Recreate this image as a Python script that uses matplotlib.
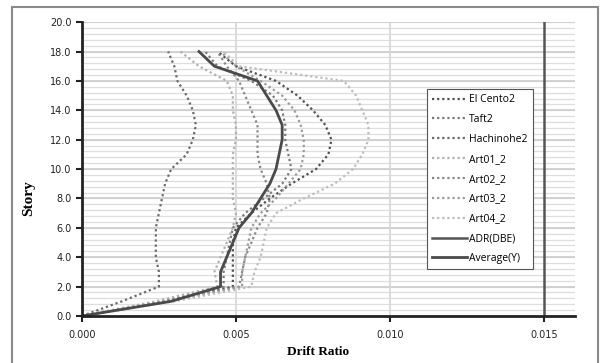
import matplotlib
matplotlib.use("Agg")
import matplotlib.pyplot as plt
from matplotlib.patches import Rectangle
import numpy as np

# story levels
story = np.arange(0, 19)

# drift ratio per story
el_cento2 = [0, 0.0027, 0.0049, 0.0049, 0.0049, 0.0049, 0.0050, 0.0055, 0.0061, 0.0068,
             0.0076, 0.0080, 0.0081, 0.0079, 0.0075, 0.0070, 0.0063, 0.0050, 0.0044]
taft2 = [0, 0.0026, 0.0046, 0.0046, 0.0047, 0.0048, 0.0049, 0.0053, 0.0059, 0.0065,
         0.0068, 0.0067, 0.0066, 0.0066, 0.0065, 0.0062, 0.0055, 0.0044, 0.0040]
hachinohe2 = [0, 0.0013, 0.0025, 0.0025, 0.0024, 0.0024, 0.0024, 0.0025, 0.0026, 0.0027,
              0.0029, 0.0034, 0.0036, 0.0037, 0.0036, 0.0034, 0.0031, 0.0030, 0.0028]
art01_2 = [0, 0.0024, 0.0044, 0.0043, 0.0045, 0.0047, 0.0049, 0.0050, 0.0049, 0.0049,
           0.0049, 0.0049, 0.0050, 0.0050, 0.0049, 0.0049, 0.0047, 0.0038, 0.0032]
art02_2 = [0, 0.0028, 0.0051, 0.0052, 0.0053, 0.0055, 0.0057, 0.0060, 0.0061, 0.0060,
           0.0058, 0.0057, 0.0057, 0.0057, 0.0055, 0.0053, 0.0051, 0.0047, 0.0044]
art03_2 = [0, 0.0028, 0.0052, 0.0052, 0.0053, 0.0054, 0.0055, 0.0058, 0.0063, 0.0067,
           0.0071, 0.0072, 0.0072, 0.0071, 0.0069, 0.0065, 0.0058, 0.0050, 0.0045]
art04_2 = [0, 0.0030, 0.0055, 0.0056, 0.0058, 0.0059, 0.0060, 0.0063, 0.0072, 0.0082,
           0.0088, 0.0091, 0.0093, 0.0093, 0.0091, 0.0089, 0.0085, 0.0051, 0.0046]
average_y = [0, 0.0029, 0.0045, 0.0045, 0.0047, 0.0049, 0.0051, 0.0055, 0.0058, 0.0061,
             0.0063, 0.0064, 0.0065, 0.0065, 0.0063, 0.0060, 0.0057, 0.0043, 0.0038]
adr_dbe = 0.015

records = [
    ("El Cento2", el_cento2, "#505050"),
    ("Taft2", taft2, "#7a7a7a"),
    ("Hachinohe2", hachinohe2, "#6a6a6a"),
    ("Art01_2", art01_2, "#b0b0b0"),
    ("Art02_2", art02_2, "#888888"),
    ("Art03_2", art03_2, "#9a9a9a"),
    ("Art04_2", art04_2, "#bcbcbc"),
]

fig = plt.figure(figsize=(6.02, 3.63), dpi=100)
ax = fig.add_axes([0.136, 0.1295, 0.819, 0.8095])

# grid: minor every 0.4, major every 2
for yy in np.arange(0.4, 20.01, 0.4):
    ax.axhline(yy, color="#dedede", lw=0.9, zorder=0)
for yy in np.arange(2, 20.01, 2):
    ax.axhline(yy, color="#cfcfcf", lw=1.3, zorder=0)
for xx in [0.005, 0.010]:
    ax.axvline(xx, color="#d6d6d6", lw=1.2, zorder=0)

for name, vals, col in records:
    ax.plot(vals, story, color=col, lw=1.6, linestyle=(0, (1, 1.3)), label=name)

ax.plot([adr_dbe, adr_dbe], [0, 20], color="#555555", lw=1.8, label="ADR(DBE)")
ax.plot(average_y, story, color="#4a4a4a", lw=2.0, label="Average(Y)")

ax.set_xlim(0, 0.016)
ax.set_ylim(0, 20)
ax.set_xticks([0, 0.005, 0.010, 0.015])
ax.set_xticklabels(["0.000", "0.005", "0.010", "0.015"])
ax.set_yticks(np.arange(0, 20.1, 2))
ax.set_yticklabels([f"{v:.1f}" for v in np.arange(0, 20.1, 2)])
ax.tick_params(axis="both", labelsize=7, length=4, width=1.5, direction="out",
               colors="#222222")
ax.tick_params(axis="x", pad=6)

for s in ["top", "right"]:
    ax.spines[s].set_visible(False)
for s in ["left", "bottom"]:
    ax.spines[s].set_linewidth(2)
    ax.spines[s].set_color("#222222")

leg = ax.legend(loc="upper left", bbox_to_anchor=(0.69, 0.79),
                prop={"family": "Open Sans", "size": 7.5},
                handlelength=3.3, handletextpad=0.2, labelspacing=0.85,
                fancybox=False, framealpha=1, edgecolor="#555555",
                borderpad=0.5)
leg.get_frame().set_linewidth(0.8)

fig.text(0.048, 0.455, "Story", rotation=90, ha="center", va="center",
         family="Liberation Serif", fontweight="bold", fontsize=11)
fig.text(0.528, 0.03, "Drift Ratio", ha="center", va="center",
         family="Liberation Serif", fontweight="bold", fontsize=9.5)

fig.patches.append(Rectangle((0.02, -0.05), 0.973, 1.031, transform=fig.transFigure,
                             fill=False, edgecolor="#8a8a8a", lw=1.5))

fig.savefig("out.png", dpi=100)
